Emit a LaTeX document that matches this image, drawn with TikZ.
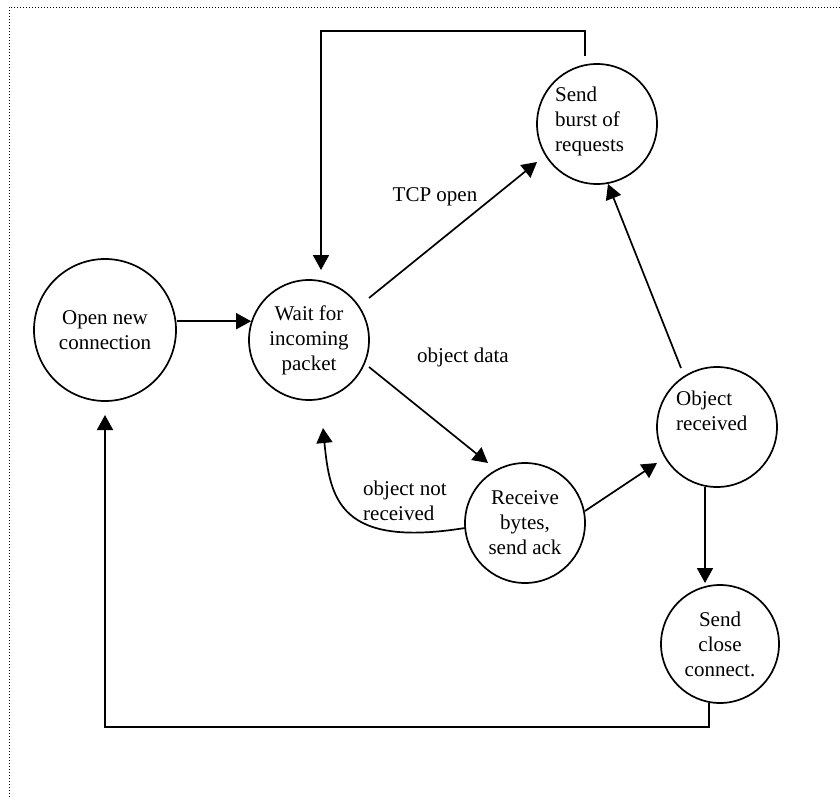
\documentclass[tikz,border=0pt]{standalone}
\usepackage{fontspec}
\setmainfont{Liberation Serif}
\usetikzlibrary{arrows.meta,calc}
\begin{document}
\begin{tikzpicture}[x=1pt,y=-1pt,
  txt/.style={font=\fontsize{21}{25}\selectfont, inner sep=0pt},
  state/.style={txt, circle, draw, line width=1.7pt, minimum size=120pt, align=center},
  edge/.style={line width=1.7pt},
  arr/.style={edge, -{Triangle[length=15pt,width=16pt]}},
  frameline/.style={line width=0.8pt, dash pattern=on 1pt off 2pt}]
\useasboundingbox (0,0) rectangle (840,797);

% outer frame (only top and left edges fall inside the page)
\coordinate (fr-tl) at (9,7);
\coordinate (fr-tr) at (840,7);
\coordinate (fr-bl) at (9,797);
\draw[frameline] (fr-tr) -- (fr-tl) -- (fr-bl);

% states
\node[state, minimum size=142pt] (open) at (105,330) {Open new\\connection};
\node[state] (wait)   at (309,340) {Wait for\\incoming\\packet};
\node[state] (burst)  at (597,124) {};
\node[txt, anchor=west, align=left] (burstlbl) at (555,121) {Send\\burst of\\requests};
\node[state] (objrec) at (717,427) {};
\node[txt, anchor=west, align=left] (objreclbl) at (676,411) {Object\\received};
\node[state] (recv)   at (525,523) {Receive\\bytes,\\send ack};
\node[state, minimum size=118pt] (close) at (720,644) {Send\\close\\connect.};

% transitions
\draw[arr] (wait.162.5 -| open.east) -- (wait.162.5);
\draw[arr] ($(wait.center)+(60,-42)$) -- ($(burst.center)+(-60,38)$);
\draw[arr] ($(wait.center)+(60,27)$) -- ($(recv.center)+(-37,-60)$);
\draw[arr] ($(recv.center)+(60,-12)$) -- ($(objrec.center)+(-60,36)$);
\draw[arr] ($(objrec.center)+(-36,-59)$) -- ($(burst.center)+(11,60)$);
\draw[arr] ($(objrec.center)+(-12,60)$) -- ($(close.center)+(-15,-61)$);

% loop back from the burst to waiting
\coordinate (b1) at ($(burst.center)+(-12,-68)$);
\coordinate (w1) at ($(wait.center)+(12,-70)$);
\draw[arr] (b1) -- (b1 |- 0,31) -- (w1 |- 0,31) -- (w1);

% close connection back to a new connection
\coordinate (c1) at ($(close.center)+(-11,59)$);
\coordinate (o1) at ($(open.center)+(0,85)$);
\draw[arr] (c1) -- (c1 |- 0,727) -- (o1 |- 0,727) -- (o1);

% partial receive returns to waiting
\draw[arr] ($(recv.center)+(-60,5)$) .. controls (340,548) and (330,500) .. ($(wait.center)+(14,88)$);

% transition labels
\node[txt] (tcplbl) at (435,197) {TCP open};
\node[txt] (datalbl) at (463,357) {object data};
\node[txt, anchor=west, align=left] (notlbl) at (363,501) {object not\\received};
\end{tikzpicture}
\end{document}
